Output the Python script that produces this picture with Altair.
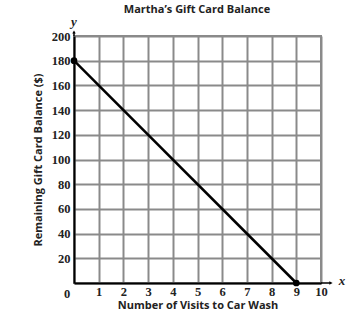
import altair as alt
import pandas as pd

visits = [0, 9]
balance = [180, 0]
x_ticks = list(range(0, 11))
y_ticks = list(range(0, 201, 20))

df = pd.DataFrame({"visits": visits, "balance": balance})

xs = alt.Scale(domain=[0, 10], nice=False, zero=True)
ys = alt.Scale(domain=[0, 200], nice=False, zero=True)

SERIF = "Liberation Serif"
SANS = "Open Sans"

common = dict(labelFont=SERIF, labelFontWeight="bold", labelFontSize=12.5,
              labelColor="#222", labelOverlap=False, labelFlush=False, format="d",
              labelExpr="datum.value == 0 ? '' : datum.label",
              titleFont=SANS, titleFontWeight="bold", titleFontSize=11,
              titleColor="#222", domainColor="black", domainWidth=2, ticks=False,
              gridColor="#8a8a8a", gridWidth=2)

line = alt.Chart(df).mark_line(
    color="black", strokeWidth=2.5, clip=False,
    point=alt.OverlayMarkDef(filled=True, color="black", size=45, opacity=1),
).encode(
    x=alt.X("visits:Q", scale=xs,
            axis=alt.Axis(values=x_ticks, title="Number of Visits to Car Wash",
                          labelPadding=2, titlePadding=2, **common)),
    y=alt.Y("balance:Q", scale=ys,
            axis=alt.Axis(values=y_ticks, title="Remaining Gift Card Balance ($)",
                          labelPadding=4, titlePadding=8, **common)),
)

one = pd.DataFrame({"t": ["0"]})

zero_lbl = alt.Chart(one).mark_text(
    font=SERIF, fontWeight="bold", fontSize=12.5, color="#222", dx=-7, dy=11
).encode(x=alt.value(0), y=alt.value(247), text=alt.value("0"))

y_arrow = alt.Chart(one).mark_point(
    shape="triangle-up", filled=True, color="black", size=12, opacity=1
).encode(x=alt.value(0), y=alt.value(-4))
x_arrow = alt.Chart(one).mark_point(
    shape="triangle-right", filled=True, color="black", size=14, opacity=1
).encode(x=alt.value(257), y=alt.value(247))
x_ext = alt.Chart(one).mark_rule(color="black", strokeWidth=1.5).encode(
    x=alt.value(247), x2=alt.value(256), y=alt.value(247))
y_ext = alt.Chart(one).mark_rule(color="black", strokeWidth=1.5).encode(
    x=alt.value(0), y=alt.value(0), y2=alt.value(-3))

y_lbl = alt.Chart(one).mark_text(
    font=SERIF, fontStyle="italic", fontWeight="bold", fontSize=13, color="#222"
).encode(x=alt.value(0), y=alt.value(-14), text=alt.value("y"))
x_lbl = alt.Chart(one).mark_text(
    font=SERIF, fontStyle="italic", fontWeight="bold", fontSize=13, color="#222"
).encode(x=alt.value(268), y=alt.value(245), text=alt.value("x"))
title = alt.Chart(one).mark_text(
    font=SANS, fontWeight="bold", fontSize=11, color="#222"
).encode(x=alt.value(123), y=alt.value(-26), text=alt.value("Martha\u2019s Gift Card Balance"))

chart = alt.layer(line, zero_lbl, x_ext, y_ext, y_arrow, x_arrow, y_lbl, x_lbl, title).properties(
    width=247, height=247,
    autosize=alt.AutoSizeParams(type="none"),
    padding={"left": 74, "top": 36, "right": 32, "bottom": 39},
    background="white",
).configure_view(stroke="#8a8a8a", strokeWidth=2)

chart.save("out.html", embed_options={"renderer": "svg", "actions": False})
